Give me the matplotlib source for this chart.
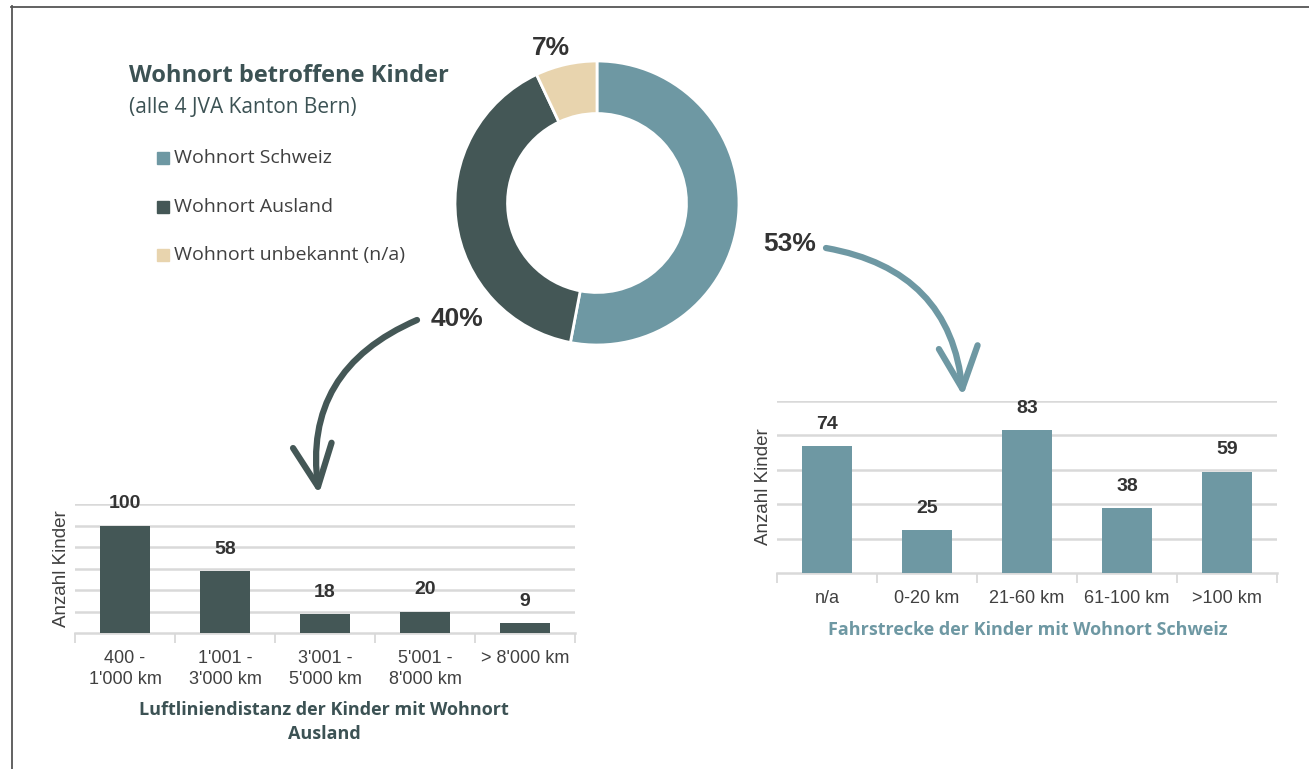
import matplotlib
matplotlib.use("Agg")
import matplotlib.pyplot as plt
from matplotlib.patches import FancyArrowPatch, Rectangle
from matplotlib.lines import Line2D

W, H = 1309, 769

# donut: place of residence of affected children
wohnort_labels = ['Wohnort Schweiz', 'Wohnort Ausland', 'Wohnort unbekannt (n/a)']
wohnort_share = [53, 40, 7]

# bar chart left: air-line distance, residence abroad
ausland_cats = ["400 -\n1'000 km", "1'001 -\n3'000 km", "3'001 -\n5'000 km",
                "5'001 -\n8'000 km", "> 8'000 km"]
ausland_vals = [100, 58, 18, 20, 9]

# bar chart right: travel distance, residence Switzerland
schweiz_cats = ['n/a', '0-20 km', '21-60 km', '61-100 km', '>100 km']
schweiz_vals = [74, 25, 83, 38, 59]

TEAL = '#6e98a3'
DARK = '#445756'
BEIGE = '#e8d4ae'
TITLE_C = '#3c5254'
TXT = '#404040'
NUM = '#333333'
GRID = '#d9d9d9'
colors = [TEAL, DARK, BEIGE]

SANS = ['Liberation Sans', 'DejaVu Sans']
HEAD = ['Open Sans', 'DejaVu Sans']


def fx(x):
    return x / W


def fy(y):
    return 1 - y / H


fig = plt.figure(figsize=(W / 100, H / 100), dpi=100)

# screenshot frame (top and left edges only)
fig.add_artist(Line2D([fx(11), 1], [fy(6.5), fy(6.5)], color='#555555', lw=1.3,
                      transform=fig.transFigure))
fig.add_artist(Line2D([fx(11.5), fx(11.5)], [fy(6), 0], color='#555555', lw=1.3,
                      transform=fig.transFigure))

# ---- donut
cx, cy, r = 597, 203, 142
axd = fig.add_axes([fx(cx - r), fy(cy + r), 2 * r / W, 2 * r / H])
wedges, _ = axd.pie(wohnort_share, colors=colors, startangle=90, counterclock=False,
                    radius=1, wedgeprops=dict(width=0.37, edgecolor='white', linewidth=2))
axd.set_xlim(-1, 1); axd.set_ylim(-1, 1)
axd.axis('off')

pct_pos = [(790, 244), (457, 319), (551, 48)]
for v, (px, py) in zip(wohnort_share, pct_pos):
    fig.text(fx(px), fy(py), f'{v}%', ha='center', va='center', fontsize=19,
             fontweight='bold', color=NUM, family=SANS)

fig.text(fx(129), fy(82), 'Wohnort betroffene Kinder', ha='left', va='baseline',
         fontsize=17, fontweight='bold', color=TITLE_C, family=HEAD)
fig.text(fx(129), fy(113), '(alle 4 JVA Kanton Bern)', ha='left', va='baseline',
         fontsize=15, color=TITLE_C, family=HEAD)

# legend (manual, rows 48 px apart)
for i, (lab, c) in enumerate(zip(wohnort_labels, colors)):
    yc = 158 + i * 48.5
    fig.add_artist(Rectangle((fx(157), fy(yc + 6)), 12 / W, 12 / H, color=c,
                             transform=fig.transFigure))
    fig.text(fx(174), fy(yc), lab, ha='left', va='center', fontsize=14,
             color=TXT, family=HEAD)


def bars(ax, cats, vals, color, ymax):
    x = range(len(vals))
    ax.bar(x, vals, width=0.5, color=color, zorder=3)
    ax.set_xlim(-0.5, len(vals) - 0.5)
    ax.set_ylim(0, ymax)
    ax.set_yticks(range(20, ymax + 1, 20))
    ax.yaxis.grid(True, color=GRID, lw=1.8, zorder=0)
    ax.tick_params(axis='y', length=0, labelleft=False)
    for s in ['top', 'right', 'left']:
        ax.spines[s].set_visible(False)
    ax.spines['bottom'].set_color(GRID)
    ax.spines['bottom'].set_linewidth(1.8)
    ax.set_xticks(list(x))
    ax.set_xticklabels(cats, fontsize=13, color=TXT, family=SANS, linespacing=1.35)
    ax.set_xticks([i - 0.5 for i in range(len(vals) + 1)], minor=True)
    ax.tick_params(axis='x', which='major', length=0, pad=12)
    ax.tick_params(axis='x', which='minor', length=7, color=GRID, width=1.3)
    for xi, v in zip(x, vals):
        ax.annotate(str(v), (xi, v), xytext=(0, 15.5), textcoords='offset points',
                    ha='center', va='center', fontsize=14, fontweight='bold',
                    color=NUM, family=SANS)
    ax.text(-0.026, 0.5, 'Anzahl Kinder', transform=ax.transAxes, rotation=90,
            ha='center', va='center', fontsize=13.5, color=TXT, family=SANS)
    ax.patch.set_alpha(0)


# ---- left bars (Ausland)
axl = fig.add_axes([fx(75), fy(633), 500 / W, (633 - 504) / H])
bars(axl, ausland_cats, ausland_vals, DARK, 120)
fig.text(fx(324), fy(722), 'Luftliniendistanz der Kinder mit Wohnort\nAusland',
         ha='center', va='center', fontsize=13, fontweight='bold', color=TITLE_C,
         family=HEAD, linespacing=1.4)

# ---- right bars (Schweiz)
axr = fig.add_axes([fx(777), fy(573), 500 / W, (573 - 401) / H])
bars(axr, schweiz_cats, schweiz_vals, TEAL, 100)
fig.text(fx(1028), fy(630), 'Fahrstrecke der Kinder mit Wohnort Schweiz',
         ha='center', va='center', fontsize=13, fontweight='bold', color=TEAL,
         family=HEAD)

# ---- curved arrows from donut to bar charts
for (x0, y0), (x1, y1), rad, c in [((417, 320), (319, 494), 0.38, DARK),
                                   ((826, 248), (963, 396), -0.38, TEAL)]:
    arr = FancyArrowPatch((fx(x0), fy(y0)), (fx(x1), fy(y1)), transform=fig.transFigure,
                          connectionstyle=f'arc3,rad={rad}',
                          arrowstyle='->,head_length=0.6,head_width=0.28',
                          mutation_scale=50, lw=4.5, color=c, capstyle='round',
                          joinstyle='round', shrinkA=0, shrinkB=0)
    fig.add_artist(arr)

fig.savefig('out.png', dpi=100, facecolor='white')
